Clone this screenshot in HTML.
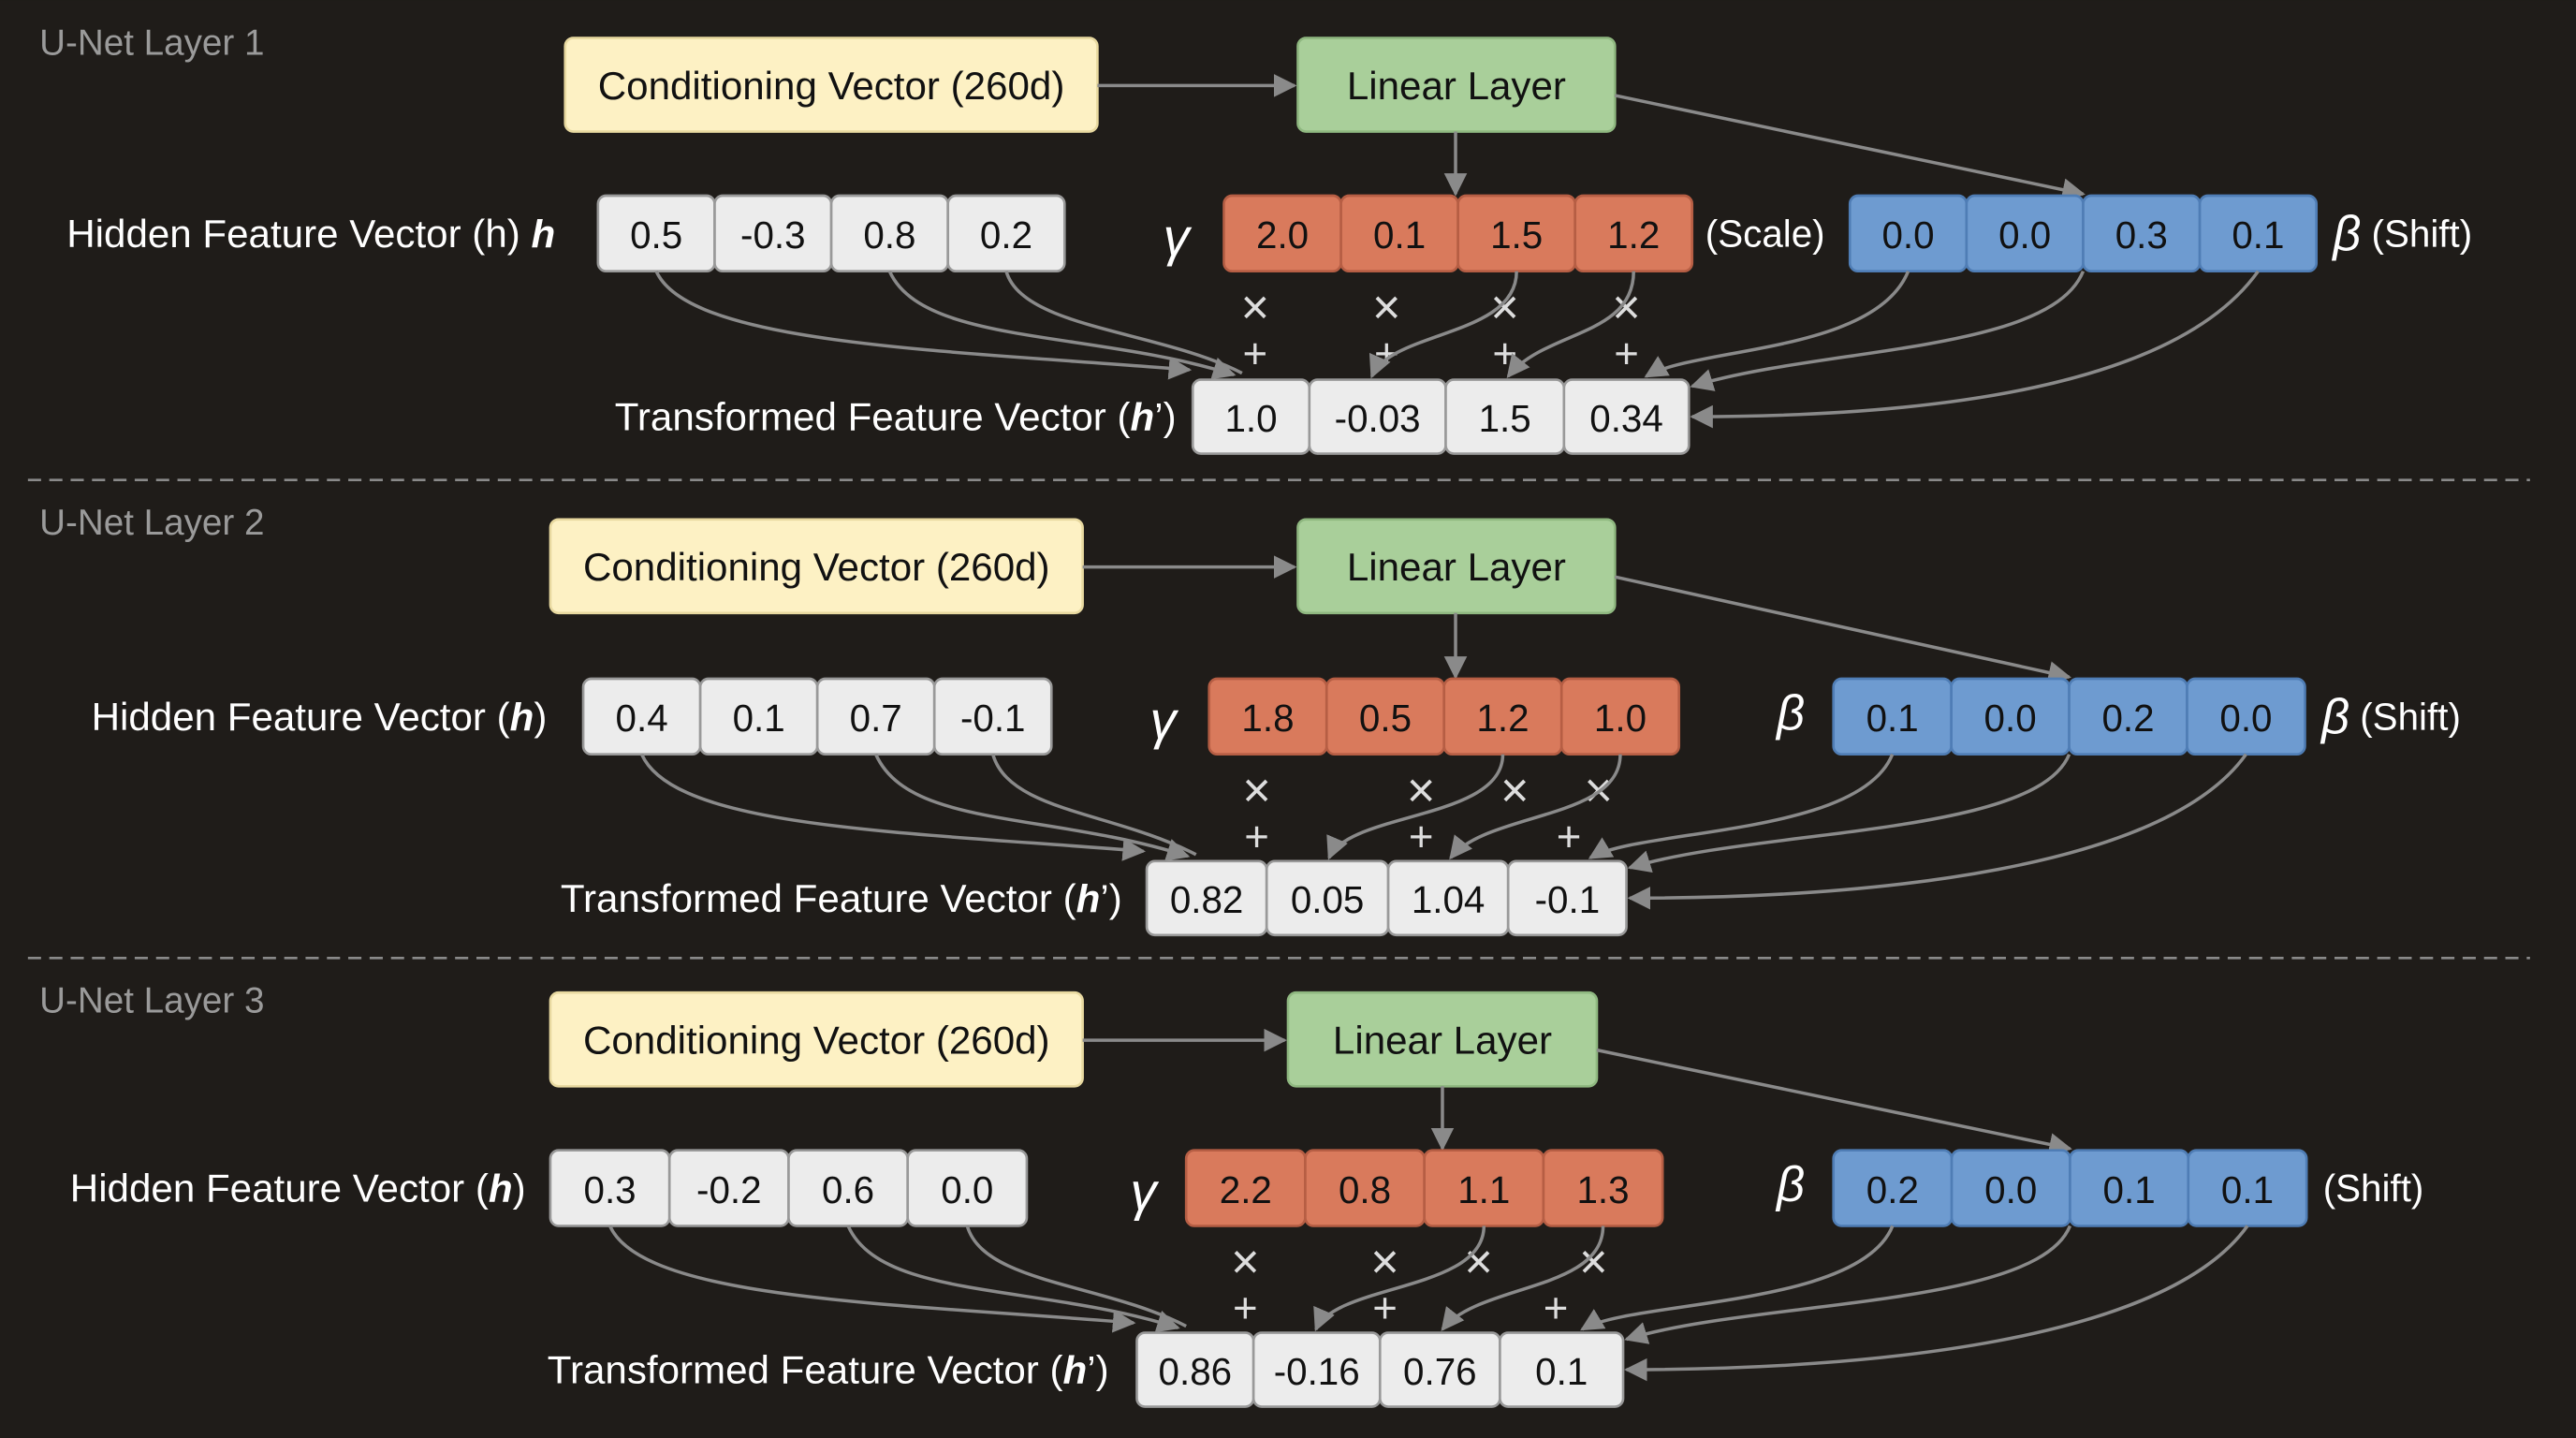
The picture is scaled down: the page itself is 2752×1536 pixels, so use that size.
<!DOCTYPE html>
<html><head><meta charset="utf-8"><style>
html,body{margin:0;padding:0;background:#1f1c19;width:2752px;height:1536px;overflow:hidden}
svg{display:block}
text{font-family:"Liberation Sans",sans-serif}
</style></head><body>
<svg id="s" width="2752" height="1536" viewBox="0 0 1568 875" xmlns="http://www.w3.org/2000/svg">
<defs><marker id="ar" viewBox="0 0 10 10" refX="9" refY="5" markerWidth="7" markerHeight="7" orient="auto-start-reverse"><path d="M0,0 L10,5 L0,10 z" fill="#8a8a8a"/></marker></defs>
<rect width="1568" height="875" fill="#1f1c19"/>
<line x1="17" y1="292" x2="1540" y2="292" stroke="#8a8a8a" stroke-width="1.5" stroke-dasharray="8,5"/>
<line x1="17" y1="583" x2="1540" y2="583" stroke="#8a8a8a" stroke-width="1.5" stroke-dasharray="8,5"/>
<g id="g"></g>
</svg>
<script>
var G=document.getElementById('g'),out='';
function rect(x,y,w,h,f,st){out+='<rect x="'+x+'" y="'+y+'" width="'+w+'" height="'+h+'" rx="5" fill="'+f+'" stroke="'+st+'" stroke-width="1.5"/>';}
function txt(x,y,s,sz,c,anc,extra){out+='<text x="'+x+'" y="'+y+'" font-size="'+sz+'" fill="'+c+'" text-anchor="'+(anc||'start')+'" dominant-baseline="central" '+(extra||'')+'>'+s+'</text>';}
function path(d,m){out+='<path d="'+d+'" fill="none" stroke="#8a8a8a" stroke-width="2" '+(m?'marker-end="url(#ar)"':'')+'/>';}
function cells(xs,y,h,vals,f,st,tc){for(var i=0;i<4;i++){rect(xs[i],y,xs[i+1]-xs[i],h,f,st);txt((xs[i]+xs[i+1])/2,y+h/2+1,vals[i],23,tc,'middle');}}
function even(a,b){var r=[];for(var i=0;i<=4;i++)r.push(a+(b-a)*i/4);return r;}
var L=[
{t:'U-Net Layer 1',ty:26,cx:[344,668],cy:23,lx:[790,983],hl:'Hidden Feature Vector (h) <tspan font-weight="bold" font-style="italic">h</tspan>',hlx:338,hx:[364,648],hy:119,
 gl:716,gx:[745,1030],scale:true,bl:null,bx:[1126,1410],sl:'<tspan font-style="italic" font-size="30">β</tspan> (Shift)',tl:716,px:[726,797,880,952,1028],py:231,
 g:['2.0','0.1','1.5','1.2'],b:['0.0','0.0','0.3','0.1'],h:['0.5','-0.3','0.8','0.2'],p:['1.0','-0.03','1.5','0.34'],xm:[764,844,916,990],pm:[764,844,916,990]},
{t:'U-Net Layer 2',ty:318,cx:[335,659],cy:316,lx:[790,983],hl:'Hidden Feature Vector (<tspan font-weight="bold" font-style="italic">h</tspan>)',hlx:333,hx:[355,640],hy:413,
 gl:708,gx:[736,1022],scale:false,bl:1090,bx:[1116,1403],sl:'<tspan font-style="italic" font-size="30">β</tspan> (Shift)',tl:683,px:[698,771,845,918,990],py:524,
 g:['1.8','0.5','1.2','1.0'],b:['0.1','0.0','0.2','0.0'],h:['0.4','0.1','0.7','-0.1'],p:['0.82','0.05','1.04','-0.1'],xm:[765,865,922,973],pm:[765,865,955]},
{t:'U-Net Layer 3',ty:609,cx:[335,659],cy:604,lx:[784,972],hl:'Hidden Feature Vector (<tspan font-weight="bold" font-style="italic">h</tspan>)',hlx:320,hx:[335,625],hy:700,
 gl:696,gx:[722,1012],scale:false,bl:1090,bx:[1116,1404],sl:'(Shift)',tl:675,px:[692,763,840,913,988],py:811,
 g:['2.2','0.8','1.1','1.3'],b:['0.2','0.0','0.1','0.1'],h:['0.3','-0.2','0.6','0.0'],p:['0.86','-0.16','0.76','0.1'],xm:[758,843,900,970],pm:[758,843,947]}
];
L.forEach(function(o){
 var ch=46;
 txt(24,o.ty,o.t,22,'#9a9a9a');
 rect(o.cx[0],o.cy,o.cx[1]-o.cx[0],57,'#fdf1c4','#e8d9a0');txt((o.cx[0]+o.cx[1])/2,o.cy+29,'Conditioning Vector (260d)',24,'#111','middle');
 rect(o.lx[0],o.cy,o.lx[1]-o.lx[0],57,'#a9cf9a','#8fb880');txt((o.lx[0]+o.lx[1])/2,o.cy+29,'Linear Layer',24,'#111','middle');
 var my=o.cy+29;
 path('M'+o.cx[1]+','+my+' L'+(o.lx[0]-2)+','+my,1);
 var lcx=(o.lx[0]+o.lx[1])/2|0;
 path('M'+lcx+','+(o.cy+57)+' L'+lcx+','+(o.hy-1),1);
 var bx=even(o.bx[0],o.bx[1]),gx=even(o.gx[0],o.gx[1]),hx=even(o.hx[0],o.hx[1]);
 path('M'+o.lx[1]+','+(o.cy+35)+' L'+bx[2]+','+(o.hy-1),1);
 var cy=o.hy+ch/2;
 txt(o.hlx,cy,o.hl,24,'#fff','end');
 cells(hx,o.hy,ch,o.h,'#ececec','#999','#111');
 txt(o.gl,cy+2,'γ',32,'#fff','middle','font-style="italic" font-family="Liberation Serif,serif"');
 cells(gx,o.hy,ch,o.g,'#d97a5c','#b65e44','#111');
 if(o.scale)txt(o.gx[1]+8,cy,'(Scale)',23,'#fff');
 if(o.bl)txt(o.bl,cy-2,'β',30,'#fff','middle','font-style="italic"');
 cells(bx,o.hy,ch,o.b,'#6e9bd0','#4f7db5','#111');
 txt(o.bx[1]+10,cy,o.sl,23,'#fff');
 var bot=o.hy+ch, py=o.py, ph=45;
 o.xm.forEach(function(x){txt(x,bot+22,'×',30,'#ddd','middle');});
 o.pm.forEach(function(x){txt(x,bot+50,'+',26,'#ddd','middle');});
 txt(o.tl,py+ph/2,'Transformed Feature Vector (<tspan font-weight="bold" font-style="italic">h</tspan>’)',24,'#fff','end');
 var p=o.px;
 for(var i=0;i<4;i++){rect(p[i],py,p[i+1]-p[i],ph,'#ececec','#999');txt((p[i]+p[i+1])/2,py+ph/2+1,o.p[i],23,'#111','middle');}
 var hc=[(hx[0]+hx[1])/2,(hx[1]+hx[2])/2,(hx[2]+hx[3])/2,(hx[3]+hx[4])/2];
 var tx0=p[0];
 path('M'+(hc[0])+','+bot+' C'+(hc[0]+20)+','+(bot+45)+' '+(tx0-150)+','+(py-18)+' '+(tx0-2)+','+(py-6),1);
 path('M'+(hc[2])+','+bot+' C'+(hc[2]+20)+','+(bot+45)+' '+(tx0-60)+','+(py-30)+' '+(tx0+25)+','+(py-3),1);
 path('M'+(hc[3])+','+bot+' C'+(hc[3]+10)+','+(bot+35)+' '+(tx0-20)+','+(py-30)+' '+(tx0+30)+','+(py-4),0);
 var gc2=(gx[2]+gx[3])/2,gc3=(gx[3]+gx[4])/2;
 path('M'+gc2+','+bot+' C'+gc2+','+(bot+40)+' '+(p[1]+50)+','+(py-30)+' '+(p[1]+38)+','+(py-2),1);
 path('M'+gc3+','+bot+' C'+gc3+','+(bot+40)+' '+(p[2]+60)+','+(py-30)+' '+(p[2]+38)+','+(py-2),1);
 var bc=[(bx[0]+bx[1])/2,(bx[1]+bx[2])/2,(bx[2]+bx[3])/2,(bx[3]+bx[4])/2];
 var re=p[4];
 path('M'+bc[0]+','+bot+' C'+(bc[0]-20)+','+(bot+50)+' '+(p[3]+80)+','+(py-20)+' '+(p[3]+50)+','+(py-2),1);
 path('M'+bx[2]+','+bot+' C'+(bx[2]-20)+','+(bot+50)+' '+(re+80)+','+(py-20)+' '+(re+2)+','+(py+4),1);
 path('M'+bc[3]+','+bot+' C'+(bc[3]-50)+','+(bot+70)+' '+(re+150)+','+(py+ph/2)+' '+(re+2)+','+(py+ph/2),1);
});
G.innerHTML=out;
</script>
</body></html>
